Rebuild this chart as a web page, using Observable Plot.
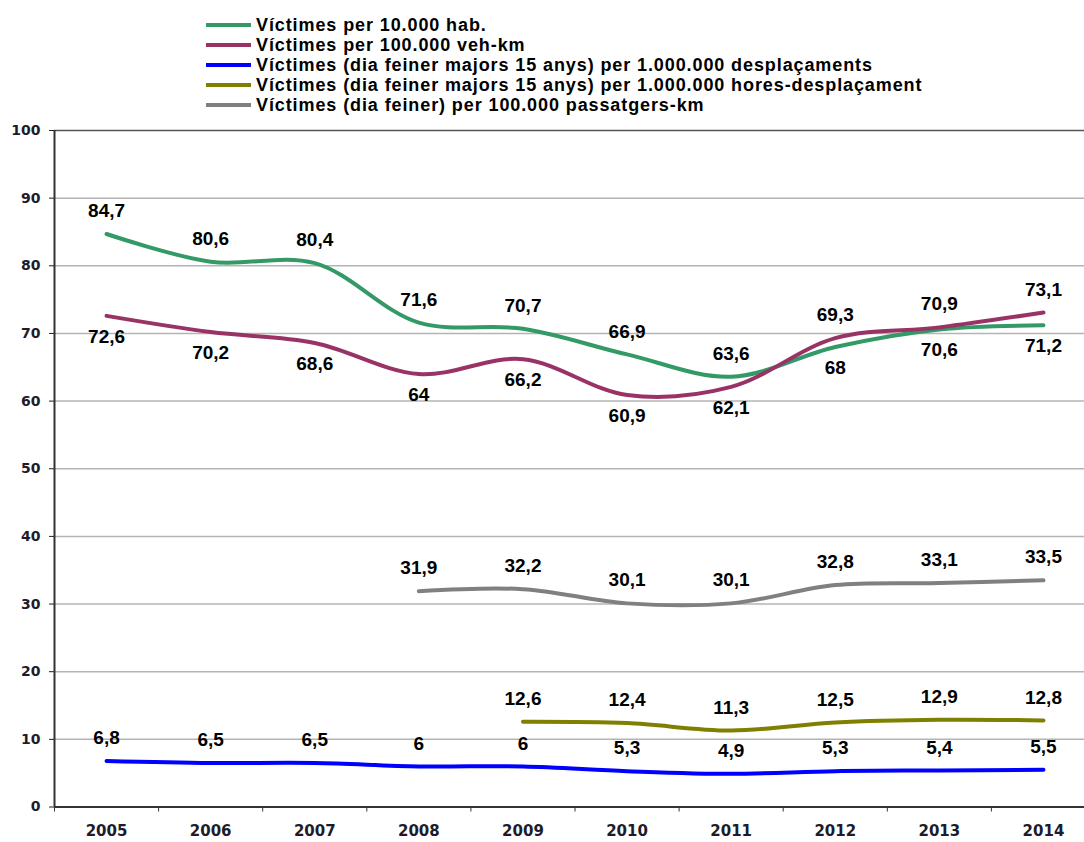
<!DOCTYPE html>
<html><head><meta charset="utf-8">
<script src="https://cdn.jsdelivr.net/npm/d3@7"></script>
<script src="https://cdn.jsdelivr.net/npm/@observablehq/plot@0.6"></script>
<style>
body{margin:0;background:#fff;width:1084px;height:842px;overflow:hidden;font-family:"Liberation Sans",Arial,sans-serif}
#legend{height:116px;box-sizing:border-box;padding-top:15px;padding-left:206px}
.row{display:flex;align-items:center;height:20px}
.sw{width:45px;height:4px;margin-right:5px;flex:none}
.lab{font-weight:bold;font-size:18px;letter-spacing:0.9px;color:#000;white-space:nowrap;line-height:20px}
#chart svg{display:block}
</style></head><body>
<div id="legend"></div>
<div id="chart"></div>
<script>
const years = [2005, 2006, 2007, 2008, 2009, 2010, 2011, 2012, 2013, 2014];
const seriesNames = [
  "Víctimes per 10.000 hab.",
  "Víctimes per 100.000 veh-km",
  "Víctimes (dia feiner majors 15 anys) per 1.000.000 desplaçaments",
  "Víctimes (dia feiner majors 15 anys) per 1.000.000 hores-desplaçament",
  "Víctimes (dia feiner) per 100.000 passatgers-km"
];
const seriesColors = ["#339966", "#993366", "#0000ff", "#808000", "#808080"];
const perHab     = [84.7, 80.6, 80.4, 71.6, 70.7, 66.9, 63.6, 68, 70.6, 71.2];
const perVehKm   = [72.6, 70.2, 68.6, 64, 66.2, 60.9, 62.1, 69.3, 70.9, 73.1];
const perTrips   = [6.8, 6.5, 6.5, 6, 6, 5.3, 4.9, 5.3, 5.4, 5.5];
const perHours   = [null, null, null, null, 12.6, 12.4, 11.3, 12.5, 12.9, 12.8];
const perPassKm  = [null, null, null, 31.9, 32.2, 30.1, 30.1, 32.8, 33.1, 33.5];
const yTicks = [0, 10, 20, 30, 40, 50, 60, 70, 80, 90, 100];

const allSeries = [perHab, perVehKm, perTrips, perHours, perPassKm];

// legend
const lg = document.getElementById("legend");
seriesNames.forEach((n, i) => {
  const r = document.createElement("div"); r.className = "row";
  const s = document.createElement("div"); s.className = "sw"; s.style.background = seriesColors[i];
  const t = document.createElement("div"); t.className = "lab"; t.textContent = n;
  r.appendChild(s); r.appendChild(t); lg.appendChild(r);
});

// long table
const rows = [];
allSeries.forEach((vals, si) => {
  vals.forEach((v, i) => {
    if (v == null) return;
    let above = true;
    if (si === 0) above = v >= perVehKm[i];
    if (si === 1) above = v > perHab[i];
    rows.push({series: seriesNames[si], year: years[i], value: v, above});
  });
});
const fmt = v => String(v).replace(".", ",");

const plot = Plot.plot({
  width: 1084, height: 726,
  marginTop: 14, marginBottom: 35.5, marginLeft: 54, marginRight: 0,
  x: {type: "linear", domain: [2004.5, 2014.5], range: [54, 1095]},
  y: {domain: [0, 100]},
  color: {domain: seriesNames, range: seriesColors},
  style: {fontFamily: "'DejaVu Sans', sans-serif", background: "#fff", overflow: "hidden"},
  marks: [
    Plot.gridY(yTicks.filter(d => d > 0 && d < 100), {stroke: "#b4b4b4", strokeOpacity: 1, strokeWidth: 1.5}),
    Plot.ruleY([100], {stroke: "#555", strokeWidth: 1.5}),
    Plot.axisY(yTicks, {tickSize: 5, tickPadding: 9, fontSize: 14, fontWeight: "bold", color: "#1c1c2c", label: null}),
    Plot.axisX(d3.range(2004.5, 2015, 1), {tickSize: 5, tickFormat: () => "", color: "#333", label: null}),
    Plot.axisX(years, {tickSize: 0, tickPadding: 18, tickFormat: d => String(d), fontSize: 15, fontWeight: "bold", color: "#1c1c2c", label: null}),
    Plot.ruleX([2004.5], {stroke: "#333", strokeWidth: 2}),
    Plot.ruleY([0], {stroke: "#333", strokeWidth: 2}),
    Plot.line(rows, {x: "year", y: "value", z: "series", stroke: "series", strokeWidth: 4, curve: "catmull-rom"}),
    Plot.text(rows.filter(d => d.above), {x: "year", y: "value", text: d => fmt(d.value), dy: -23, fontSize: 19, fontWeight: "bold", fill: "#000", fontFamily: "'Liberation Sans', Arial, sans-serif"}),
    Plot.text(rows.filter(d => !d.above), {x: "year", y: "value", text: d => fmt(d.value), dy: 21, fontSize: 19, fontWeight: "bold", fill: "#000", fontFamily: "'Liberation Sans', Arial, sans-serif"})
  ]
});
document.getElementById("chart").appendChild(plot);
</script>
</body></html>
